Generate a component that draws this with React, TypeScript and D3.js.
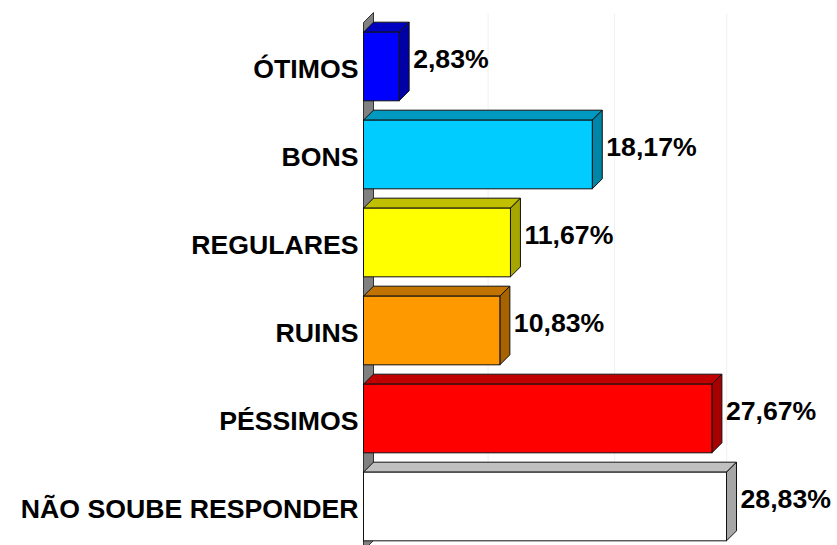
import React from 'react';
import * as d3 from 'd3';

const categories = ['ÓTIMOS', 'BONS', 'REGULARES', 'RUINS', 'PÉSSIMOS', 'NÃO SOUBE RESPONDER'];
const values = [2.83, 18.17, 11.67, 10.83, 27.67, 28.83];
const labels = ['2,83%', '18,17%', '11,67%', '10,83%', '27,67%', '28,83%'];
const frontColors = ['#0000ff', '#00ccff', '#ffff00', '#ff9900', '#ff0000', '#ffffff'];
const topColors = ['#0000c0', '#009ac0', '#c0c000', '#c07300', '#c00000', '#c0c0c0'];
const sideColors = ['#0000a6', '#0085a6', '#a6a600', '#a66300', '#a60000', '#a6a6a6'];
const gridValues = [9.1, 19.15, 28.05];

const width = 837;
const height = 545;
const depth = 10;
const font = '"Liberation Sans", Arial, sans-serif';
const fontSize = 26.67;

const x = d3.scaleLinear().domain([0, 28.83]).range([363.5, 726.5]);
const y = d3.scaleBand<string>().domain(categories).range([22.5, 550.5]).paddingInner(0.22).paddingOuter(0.11);

const poly = (pts: [number, number][]) => d3.line()(pts) + 'Z';

export default function App() {
  const x0 = x(0);
  return (
    <svg width={width} height={height} style={{ position: 'absolute', left: 0, top: 0, background: '#fff' }}>
      {gridValues.map(v => (
        <line key={v} x1={x(v) + depth} x2={x(v) + depth} y1={13.5} y2={540.5} stroke="#f0f0f0" />
      ))}
      <path
        d={poly([[x0, 22.5], [x0 + depth, 12.5], [x0 + depth, 540.5], [x0, 550.5]])}
        fill="#808080"
        stroke="#333"
      />
      {categories.map((c, i) => {
        const top = y(c)!;
        const bw = y.bandwidth();
        const right = x(values[i]);
        return (
          <g key={c}>
            <path
              d={poly([[x0, top], [x0 + depth, top - depth], [right + depth, top - depth], [right, top]])}
              fill={topColors[i]}
              stroke="#111"
            />
            <path
              d={poly([[right, top], [right + depth, top - depth], [right + depth, top + bw - depth], [right, top + bw]])}
              fill={sideColors[i]}
              stroke="#111"
            />
            <rect x={x0} y={top} width={right - x0} height={bw} fill={frontColors[i]} stroke="#111" />
            <text
              x={x0 - 5}
              y={top + bw / 2 + 11}
              textAnchor="end"
              fontFamily={font}
              fontWeight="bold"
              fontSize={fontSize}
              fill="#000"
            >
              {c}
            </text>
            <text
              x={right + depth + 4}
              y={top + bw / 2 + 1}
              fontFamily={font}
              fontWeight="bold"
              fontSize={fontSize}
              fill="#000"
            >
              {labels[i]}
            </text>
          </g>
        );
      })}
    </svg>
  );
}
